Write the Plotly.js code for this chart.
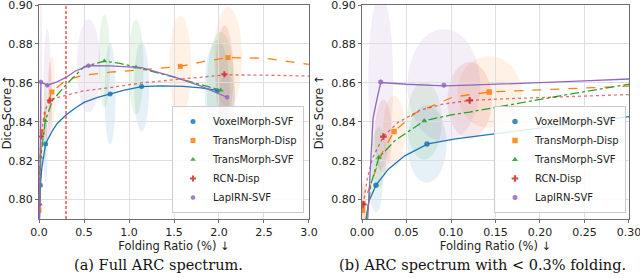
<!DOCTYPE html>
<html>
<head>
<meta charset="utf-8">
<script src="https://cdn.plot.ly/plotly-3.0.1.min.js"></script>
<style>
html,body{margin:0;padding:0;background:#fff;}
#chart{width:640px;height:278px;}
</style>
</head>
<body>
<div id="chart"></div>
<script>
// ---------------- data ----------------
const methodNames = ["VoxelMorph-SVF", "TransMorph-Disp", "TransMorph-SVF", "RCN-Disp", "LapIRN-SVF"];
const foldLimit = 0.3;
const xTicksFull = [0.0, 0.5, 1.0, 1.5, 2.0, 2.5, 3.0];
const xTicksZoom = [0.00, 0.05, 0.10, 0.15, 0.20, 0.25, 0.30];
const yTicks = [0.80, 0.82, 0.84, 0.86, 0.88, 0.90];
const captionA = "(a) Full ARC spectrum.";
const captionB = "(b) ARC spectrum with < 0.3% folding.";

// VoxelMorph-SVF
const vmFold = [0.0157, 0.073, 0.79, 1.14, 1.98];
const vmDice = [0.8074, 0.8286, 0.8543, 0.8581, 0.8560];
const vmFoldStd = [0.0073, 0.022, 0.061, 0.083, 0.14];
const vmDiceStd = [0.014, 0.020, 0.026, 0.023, 0.026];
const vmFitFullX = [0.004, 0.008, 0.0157, 0.03, 0.05, 0.073, 0.1, 0.15, 0.2, 0.3, 0.4, 0.5, 0.65, 0.79, 0.95, 1.14, 1.35, 1.6, 1.8, 1.98];
const vmFitFullY = [0.79, 0.7995, 0.8074, 0.8158, 0.8228, 0.8286, 0.8311, 0.8355, 0.839, 0.8435, 0.847, 0.850, 0.8525, 0.8543, 0.8563, 0.8581, 0.8585, 0.8582, 0.8574, 0.8561];
const vmFitZoomX = [0.0045, 0.008, 0.011, 0.0157, 0.0296, 0.048, 0.074, 0.105, 0.14, 0.175, 0.2, 0.25, 0.30];
const vmFitZoomY = [0.79, 0.7995, 0.8025, 0.8074, 0.8156, 0.8225, 0.8286, 0.8312, 0.8333, 0.8353, 0.8368, 0.8398, 0.8427];

// TransMorph-Disp
const tmdFold = [0.0004, 0.036, 0.143, 1.57, 2.10];
const tmdDice = [0.7945, 0.835, 0.8553, 0.8685, 0.873];
const tmdFoldStd = [0.004, 0.0124, 0.036, 0.122, 0.155];
const tmdDiceStd = [0.012, 0.0187, 0.0185, 0.026, 0.026];
const tmdFitFullX = [0.0004, 0.01, 0.036, 0.08, 0.143, 0.3, 0.5, 0.79, 1.14, 1.57, 1.85, 2.1, 2.5, 3.0];
const tmdFitFullY = [0.7945, 0.815, 0.835, 0.848, 0.8553, 0.8615, 0.864, 0.8655, 0.8667, 0.8685, 0.8712, 0.873, 0.8727, 0.8695];
const tmdFitZoomX = [0.0004, 0.007, 0.022, 0.036, 0.06, 0.102, 0.143, 0.2, 0.25, 0.30];
const tmdFitZoomY = [0.7945, 0.8044, 0.8234, 0.835, 0.8445, 0.8527, 0.8553, 0.8565, 0.8575, 0.8583];

// TransMorph-SVF
const tmsFold = [0.019, 0.070, 0.726, 1.078, 2.02];
const tmsDice = [0.8217, 0.8405, 0.8712, 0.8681, 0.8562];
const tmsFoldStd = [0.0085, 0.0197, 0.063, 0.083, 0.155];
const tmsDiceStd = [0.0155, 0.020, 0.024, 0.0245, 0.030];
const tmsFitFullX = [0.004, 0.019, 0.07, 0.15, 0.3, 0.5, 0.726, 0.9, 1.078, 1.5, 2.02];
const tmsFitFullY = [0.79, 0.8217, 0.8405, 0.851, 0.859, 0.8683, 0.8712, 0.870, 0.8681, 0.863, 0.8562];
const tmsFitZoomX = [0.005, 0.01, 0.019, 0.037, 0.07, 0.1, 0.121, 0.15, 0.2, 0.25, 0.30];
const tmsFitZoomY = [0.79, 0.808, 0.8217, 0.8303, 0.8405, 0.8435, 0.845, 0.8475, 0.8515, 0.8555, 0.8593];

// RCN-Disp
const rcnFold = [0.0015, 0.024, 0.121, 2.06];
const rcnDice = [0.7975, 0.8324, 0.851, 0.8645];
const rcnFoldStd = [0.003, 0.0096, 0.025, 0.10];
const rcnDiceStd = [0.012, 0.019, 0.0197, 0.025];
const rcnFitFullX = [0.0015, 0.01, 0.024, 0.06, 0.121, 0.3, 0.5, 0.79, 1.14, 1.57, 2.06, 2.5, 3.0];
const rcnFitFullY = [0.7975, 0.822, 0.8324, 0.845, 0.8515, 0.8536, 0.8559, 0.8576, 0.860, 0.8619, 0.8641, 0.8640, 0.8635];
const rcnFitZoomX = [0.0015, 0.006, 0.012, 0.024, 0.04, 0.065, 0.09, 0.121, 0.16, 0.2, 0.25, 0.30];
const rcnFitZoomY = [0.7975, 0.811, 0.8215, 0.8324, 0.8395, 0.8459, 0.849, 0.851, 0.8518, 0.8525, 0.8533, 0.854];

// LapIRN-SVF
const lapFold = [0.021, 0.092, 0.55, 2.09];
const lapDice = [0.8605, 0.8588, 0.8688, 0.8526];
const lapFoldStd = [0.014, 0.041, 0.13, 0.09];
const lapDiceStd = [0.045, 0.0289, 0.024, 0.012];
const lapFitFullX = [0.0064, 0.0124, 0.0165, 0.021, 0.092, 0.2, 0.3, 0.4, 0.55, 0.79, 1.14, 1.5, 1.8, 2.09];
const lapFitFullY = [0.79, 0.8416, 0.851, 0.8605, 0.8588, 0.8605, 0.8628, 0.866, 0.8688, 0.8687, 0.8678, 0.8631, 0.8583, 0.8526];
const lapFitZoomX = [0.0064, 0.0124, 0.0165, 0.021, 0.05, 0.092, 0.121, 0.2, 0.25, 0.30];
const lapFitZoomY = [0.79, 0.8416, 0.851, 0.8602, 0.8593, 0.8585, 0.8588, 0.860, 0.861, 0.862];

// ---------------- styles ----------------
const colors = ["#1f77b4", "#ff7f0e", "#2ca02c", "#d62728", "#9467bd"];
const fills = ["rgba(31,119,180,0.11)", "rgba(255,127,14,0.11)", "rgba(44,160,44,0.11)", "rgba(214,39,40,0.11)", "rgba(148,103,189,0.11)"];
const lineColors = ["#1f77b4", "#ff7f0e", "#2ca02c", "rgba(214,39,40,0.65)", "#9467bd"];
const dashes = ["solid", "dash", "dashdot", "dot", "solid"];
const symbols = ["circle", "square", "triangle-up", "cross", "hexagon"];

const S = [
  {fold: vmFold, dice: vmDice, sx: vmFoldStd, sy: vmDiceStd, fx: vmFitFullX, fy: vmFitFullY, zx: vmFitZoomX, zy: vmFitZoomY},
  {fold: tmdFold, dice: tmdDice, sx: tmdFoldStd, sy: tmdDiceStd, fx: tmdFitFullX, fy: tmdFitFullY, zx: tmdFitZoomX, zy: tmdFitZoomY},
  {fold: tmsFold, dice: tmsDice, sx: tmsFoldStd, sy: tmsDiceStd, fx: tmsFitFullX, fy: tmsFitFullY, zx: tmsFitZoomX, zy: tmsFitZoomY},
  {fold: rcnFold, dice: rcnDice, sx: rcnFoldStd, sy: rcnDiceStd, fx: rcnFitFullX, fy: rcnFitFullY, zx: rcnFitZoomX, zy: rcnFitZoomY},
  {fold: lapFold, dice: lapDice, sx: lapFoldStd, sy: lapDiceStd, fx: lapFitFullX, fy: lapFitFullY, zx: lapFitZoomX, zy: lapFitZoomY}
];

const traces = [];
const shapes = [];
const FONT = "DejaVu Sans, Arial, sans-serif";

S.forEach((s, i) => {
  // ellipses (std in both directions)
  [["x", "y"], ["x2", "y2"]].forEach(([xr, yr]) => {
    s.fold.forEach((f, k) => {
      shapes.push({type: "circle", xref: xr, yref: yr, layer: "below",
        x0: f - s.sx[k], x1: f + s.sx[k], y0: s.dice[k] - s.sy[k], y1: s.dice[k] + s.sy[k],
        fillcolor: fills[i], line: {width: 0}});
    });
  });
  // fitted curves
  traces.push({x: s.fx, y: s.fy, xaxis: "x", yaxis: "y", mode: "lines", showlegend: false, hoverinfo: "skip",
    line: {color: lineColors[i], width: 1.3, dash: dashes[i]}});
  traces.push({x: s.zx, y: s.zy, xaxis: "x2", yaxis: "y2", mode: "lines", showlegend: false, hoverinfo: "skip",
    line: {color: lineColors[i], width: 1.3, dash: dashes[i]}});
  // points
  traces.push({x: s.fold, y: s.dice, xaxis: "x", yaxis: "y", mode: "markers", name: methodNames[i], legend: "legend",
    marker: {color: colors[i], symbol: symbols[i], size: 5, opacity: 0.85, line: {width: 0}}});
  traces.push({x: s.fold, y: s.dice, xaxis: "x2", yaxis: "y2", mode: "markers", name: methodNames[i], legend: "legend2",
    marker: {color: colors[i], symbol: symbols[i], size: 5.5, opacity: 0.85, line: {width: 0}}});
});

// 0.3% folding threshold
shapes.push({type: "line", xref: "x", yref: "y domain", x0: foldLimit, x1: foldLimit, y0: 0, y1: 1,
  line: {color: "rgba(255,60,60,0.9)", width: 1.5, dash: "3px,2px"}});

const yDom = [1 - 219 / 278, 1 - 5 / 278];
const axBase = {
  showgrid: true, gridcolor: "#dedede", gridwidth: 1, zeroline: false,
  showline: true, mirror: true, linecolor: "#6e6e6e", linewidth: 1,
  ticks: "outside", ticklen: 3, tickcolor: "#6e6e6e",
  ticklabeloverflow: "allow",
  tickfont: {family: FONT, size: 11, color: "#222"}
};
const legendBase = {
  bgcolor: "rgba(255,255,255,0.85)", bordercolor: "#cccccc", borderwidth: 1,
  font: {family: FONT, size: 10, color: "#222"}, xanchor: "right", yanchor: "bottom",
  tracegroupgap: 0
};
const titleFont = {family: FONT, size: 11.5, color: "#222"};

const layout = {
  width: 640, height: 278,
  margin: {l: 0, r: 0, t: 0, b: 0},
  paper_bgcolor: "#fff", plot_bgcolor: "#fff",
  showlegend: true,
  xaxis: Object.assign({}, axBase, {domain: [39 / 640, 309 / 640], anchor: "y", range: [0, 3.0001],
    tickvals: xTicksFull, tickformat: ".1f",
    title: {text: "Folding Ratio (%) ↓", font: titleFont, standoff: 3}}),
  yaxis: Object.assign({}, axBase, {domain: yDom, anchor: "x", range: [0.79, 0.90005],
    tickvals: yTicks, tickformat: ".2f",
    title: {text: "Dice Score ↑", font: titleFont, standoff: 5}}),
  xaxis2: Object.assign({}, axBase, {domain: [362 / 640, 629 / 640], anchor: "y2", range: [0, 0.30001],
    tickvals: xTicksZoom, tickformat: ".2f",
    title: {text: "Folding Ratio (%) ↓", font: titleFont, standoff: 3}}),
  yaxis2: Object.assign({}, axBase, {domain: yDom, anchor: "x2", range: [0.79, 0.90005],
    tickvals: yTicks, tickformat: ".2f",
    title: {text: "Dice Score ↑", font: titleFont, standoff: 5}}),
  legend: Object.assign({}, legendBase, {x: 304 / 640, y: 1 - 213 / 278}),
  legend2: Object.assign({}, legendBase, {x: 626 / 640, y: 1 - 213 / 278}),
  shapes: shapes,
  annotations: [
    {text: captionA, xref: "paper", yref: "paper", x: 158 / 640, y: 1 - 265 / 278, xanchor: "center", yanchor: "middle",
      showarrow: false, font: {family: "DejaVu Serif, Liberation Serif, serif", size: 14.5, color: "#111"}},
    {text: captionB, xref: "paper", yref: "paper", x: 482 / 640, y: 1 - 265 / 278, xanchor: "center", yanchor: "middle",
      showarrow: false, font: {family: "DejaVu Serif, Liberation Serif, serif", size: 14.5, color: "#111"}}
  ]
};

Plotly.newPlot("chart", traces, layout, {staticPlot: true, displayModeBar: false});
</script>
</body>
</html>
